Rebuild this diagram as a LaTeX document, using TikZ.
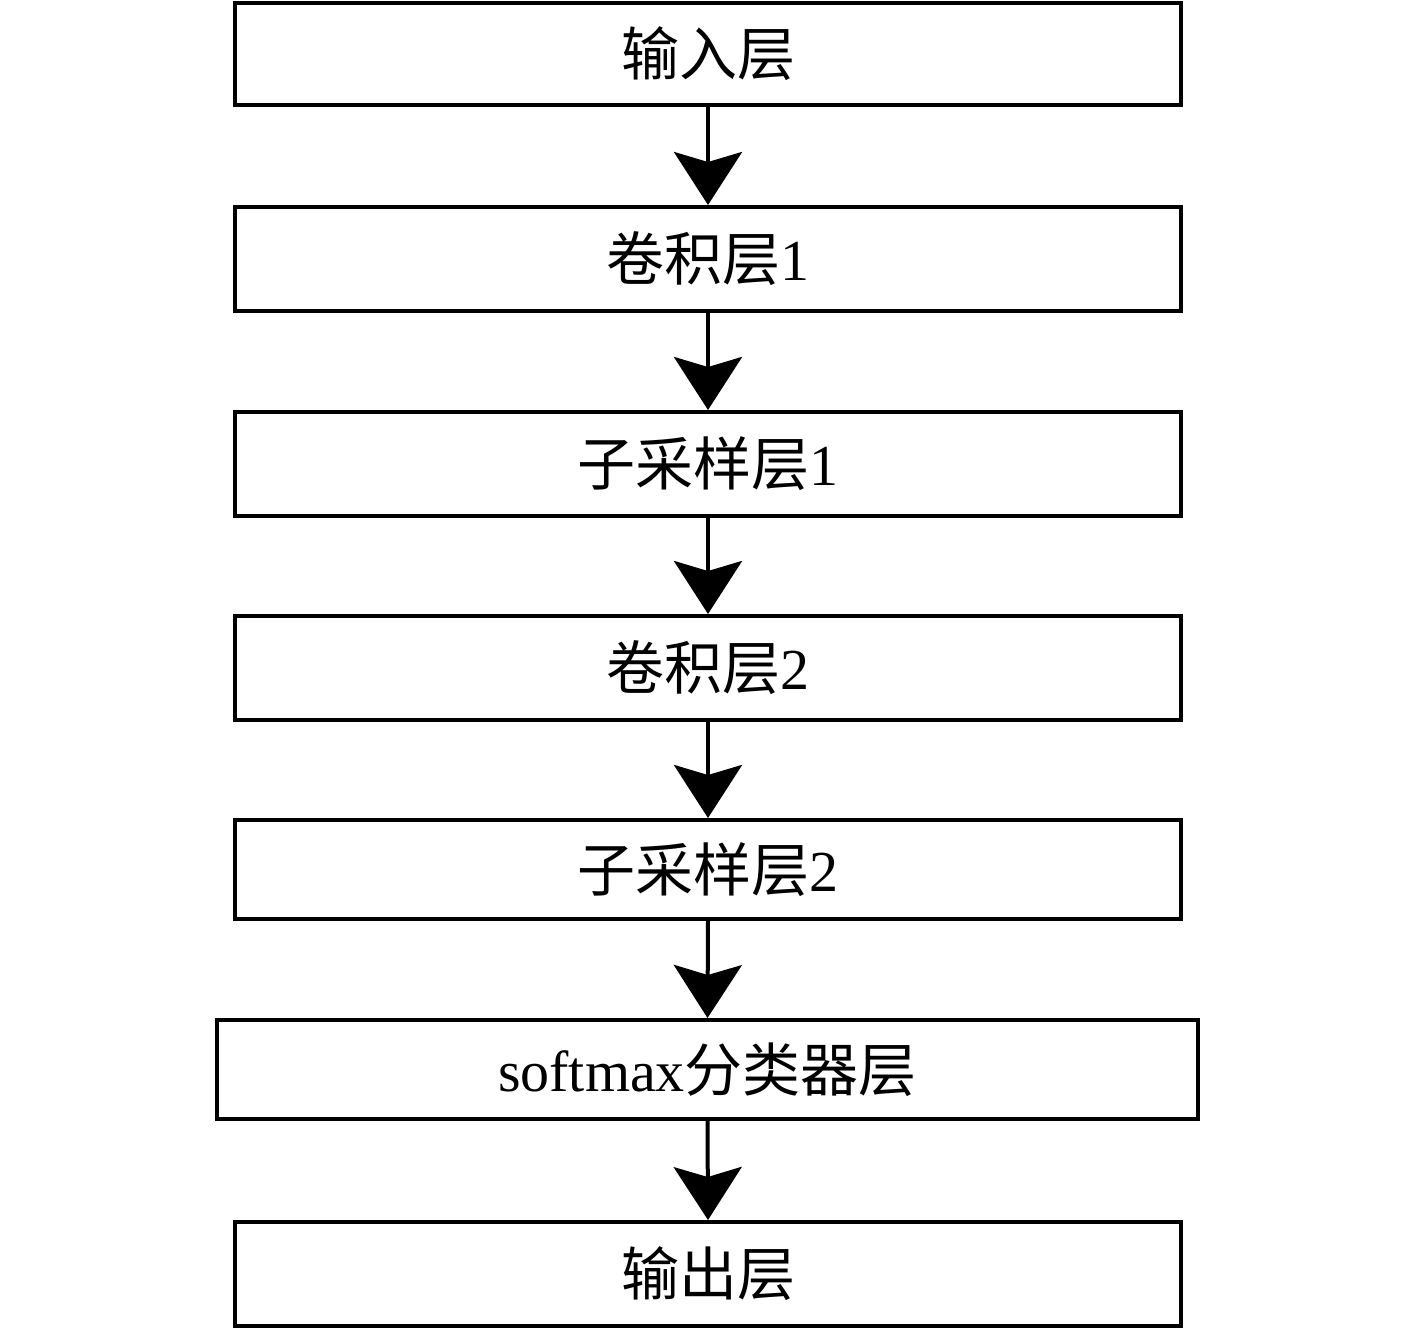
\documentclass[tikz,border=0pt]{standalone}
\usepackage{fontspec}
\setmainfont{Liberation Serif}
\newfontfamily\cjk{Noto Sans CJK SC}
\usetikzlibrary{arrows.meta}
\begin{document}
\begin{tikzpicture}[x=1pt,y=-1pt,
  box/.style={draw, line width=4pt, rectangle, inner sep=0pt, minimum width=946pt,
    font=\fontsize{58}{62}\selectfont},
  arr/.style={line width=4pt, -{Stealth[length=53pt,width=68pt,inset=10pt]}}]
\useasboundingbox (0,0) rectangle (1417,1328);
\node[box, minimum height=102pt] (n1) at (708,54) {{\cjk 输入层}};
\node[box, minimum height=104pt] (n2) at (708,259) {{\cjk 卷积层}1};
\node[box, minimum height=104pt] (n3) at (708,464) {{\cjk 子采样层}1};
\node[box, minimum height=104pt] (n4) at (708,668) {{\cjk 卷积层}2};
\node[box, minimum height=99pt] (n5) at (708,869.5) {{\cjk 子采样层}2};
\node[box, minimum height=99pt, minimum width=981pt] (n6) at (707.5,1069.5) {softmax{\cjk 分类器层}};
\node[box, minimum height=104pt] (n7) at (708,1274) {{\cjk 输出层}};
\draw[arr] (n1.south) -- (n2.north);
\draw[arr] (n2.south) -- (n3.north);
\draw[arr] (n3.south) -- (n4.north);
\draw[arr] (n4.south) -- (n5.north);
\draw[arr] (n5.south) -- (n6.north);
\draw[arr] (n6.south) -- (n7.north);
\end{tikzpicture}
\end{document}
